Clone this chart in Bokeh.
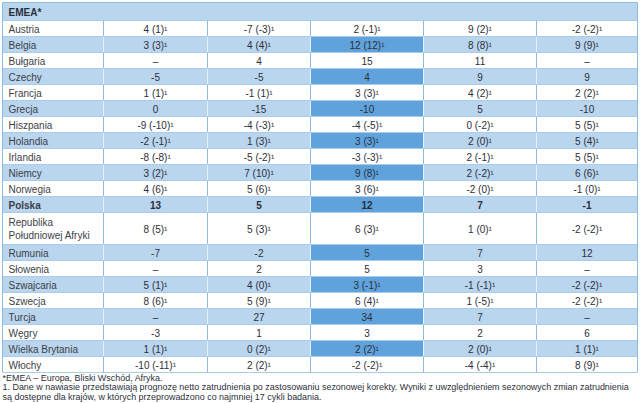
from bokeh.plotting import figure
from bokeh.models import Range1d, ColumnDataSource
from bokeh.core.properties import value
from bokeh.embed import file_html
from bokeh.resources import INLINE

# ---------------- data ----------------
region_title = "EMEA*"
countries = ["Austria", "Belgia", "Bułgaria", "Czechy", "Francja", "Grecja",
             "Hiszpania", "Holandia", "Irlandia", "Niemcy", "Norwegia", "Polska",
             "Republika\nPołudniowej Afryki", "Rumunia", "Słowenia", "Szwajcaria",
             "Szwecja", "Turcja", "Węgry", "Wielka Brytania", "Włochy"]
col1 = ["4 (1)¹", "3 (3)¹", "–", "-5", "1 (1)¹", "0", "-9 (-10)¹", "-2 (-1)¹",
        "-8 (-8)¹", "3 (2)¹", "4 (6)¹", "13", "8 (5)¹", "-7", "–", "5 (1)¹",
        "8 (6)¹", "–", "-3", "1 (1)¹", "-10 (-11)¹"]
col2 = ["-7 (-3)¹", "4 (4)¹", "4", "-5", "-1 (1)¹", "-15", "-4 (-3)¹", "1 (3)¹",
        "-5 (-2)¹", "7 (10)¹", "5 (6)¹", "5", "5 (3)¹", "-2", "2", "4 (0)¹",
        "5 (9)¹", "27", "1", "0 (2)¹", "2 (2)¹"]
col3 = ["2 (-1)¹", "12 (12)¹", "15", "4", "3 (3)¹", "-10", "-4 (-5)¹", "3 (3)¹",
        "-3 (-3)¹", "9 (8)¹", "3 (6)¹", "12", "6 (3)¹", "5", "5", "3 (-1)¹",
        "6 (4)¹", "34", "3", "2 (2)¹", "-2 (-2)¹"]
col4 = ["9 (2)¹", "8 (8)¹", "11", "9", "4 (2)¹", "5", "0 (-2)¹", "2 (0)¹",
        "2 (-1)¹", "2 (-2)¹", "-2 (0)¹", "7", "1 (0)¹", "7", "3", "-1 (-1)¹",
        "1 (-5)¹", "7", "2", "2 (0)¹", "-4 (-4)¹"]
col5 = ["-2 (-2)¹", "9 (9)¹", "–", "9", "2 (2)¹", "-10", "5 (5)¹", "5 (4)¹",
        "5 (5)¹", "6 (6)¹", "-1 (0)¹", "-1", "-2 (-2)¹", "12", "–", "-2 (-2)¹",
        "-2 (-2)¹", "–", "6", "1 (1)¹", "8 (9)¹"]
row_units = [1, 1, 1, 1, 1, 1, 1, 1, 1, 1, 1, 1, 2, 1, 1, 1, 1, 1, 1, 1, 1]
bold_row = "Polska"
footnotes = ["*EMEA – Europa, Bliski Wschód, Afryka.",
             "1. Dane w nawiasie przedstawiają prognozę netto zatrudnienia po zastosowaniu sezonowej korekty. Wyniki z uwzględnieniem sezonowych zmian zatrudnienia",
             "są dostępne dla krajów, w których przeprowadzono co najmniej 17 cykli badania."]

# ---------------- layout (reference pixel space) ----------------
col_edges = [2, 103, 207, 310, 423, 536, 637]
header_top, header_bot = 2, 20
unit_h = 16.0
LIGHT = "#bad5ee"
DARK = "#5fa2dc"
LINE = "#8fbbe3"
TXT = "#2d2f3a"
LBL = "#3d3f47"
FONT = "Liberation Sans"

p = figure(width=640, height=403, output_backend="svg", toolbar_location=None,
           x_range=Range1d(0, 640), y_range=Range1d(403, 0),
           min_border=0, outline_line_color=None)
p.axis.visible = False
p.grid.visible = False
p.background_fill_color = "white"
p.border_fill_color = "white"

# header bar
p.quad(left=[col_edges[0]], right=[col_edges[-1]], top=[header_top], bottom=[header_bot],
       fill_color=LIGHT, line_color=None)
p.text(x=[8], y=[(header_top + header_bot) / 2 + 0.5], text=[region_title],
       text_font=value(FONT), text_font_size="10px", text_font_style="bold",
       text_color=TXT, text_baseline="middle", text_align="left")

# rows
tops, bots = [], []
y = header_bot
for u in row_units:
    tops.append(y)
    y += u * unit_h
    bots.append(y)
table_bottom = y

cols = [col1, col2, col3, col4, col5]
bl, br, bt, bb, bc = [], [], [], [], []
for i in range(len(countries)):
    if i % 2 == 1:
        bl.append(col_edges[0]); br.append(col_edges[-1])
        bt.append(tops[i]); bb.append(bots[i]); bc.append(LIGHT)
        bl.append(col_edges[3]); br.append(col_edges[4])
        bt.append(tops[i]); bb.append(bots[i]); bc.append(DARK)
p.quad(left=bl, right=br, top=bt, bottom=bb, fill_color=bc, line_color=None)

# horizontal lines
hy = [header_bot] + bots
p.segment(x0=[col_edges[0]] * len(hy), x1=[col_edges[-1]] * len(hy), y0=hy, y1=hy,
          line_color="#a9cbec", line_width=1)
# vertical lines: blue in white rows, white in shaded rows
vx, vy0, vy1, vc = [], [], [], []
for i in range(len(countries)):
    for k in range(1, 6):
        vx.append(col_edges[k]); vy0.append(tops[i]); vy1.append(bots[i])
        vc.append("#e6f0fa" if i % 2 == 1 else LINE)
p.segment(x0=vx, x1=vx, y0=vy0, y1=vy1, line_color=vc, line_width=1)
# outer border
p.segment(x0=[col_edges[0], col_edges[-1], col_edges[0]],
          x1=[col_edges[0], col_edges[-1], col_edges[-1]],
          y0=[header_top, header_top, header_top],
          y1=[table_bottom, table_bottom, header_top], line_color=LINE, line_width=1)

# texts
lx, ly, lt, lw = [], [], [], []
cx, cy, ct, cw = [], [], [], []
for i, name in enumerate(countries):
    mid = (tops[i] + bots[i]) / 2 + 0.5
    style = "bold" if name == bold_row else "normal"
    lx.append(8); ly.append(mid); lt.append(name); lw.append(style)
    for j in range(5):
        cx.append((col_edges[j + 1] + col_edges[j + 2]) / 2)
        cy.append(mid); ct.append(cols[j][i]); cw.append(style)

src_l = ColumnDataSource(dict(x=lx, y=ly, t=lt, w=lw))
src_c = ColumnDataSource(dict(x=cx, y=cy, t=ct, w=cw))
p.text(x="x", y="y", text="t", text_font_style="w", source=src_l,
       text_font=value(FONT), text_font_size="10px", text_color=LBL,
       text_baseline="middle", text_align="left", text_line_height=1.15)
p.text(x="x", y="y", text="t", text_font_style="w", source=src_c,
       text_font=value(FONT), text_font_size="10px", text_color=TXT,
       text_baseline="middle", text_align="center")

# footnotes
p.text(x=[2, 2, 2], y=[table_bottom + 5, table_bottom + 14.5, table_bottom + 24], text=footnotes,
       text_font=value(FONT), text_font_size="8.95px", text_color=TXT,
       text_baseline="middle", text_align="left")

open("out.html", "w").write(file_html(p, INLINE))
